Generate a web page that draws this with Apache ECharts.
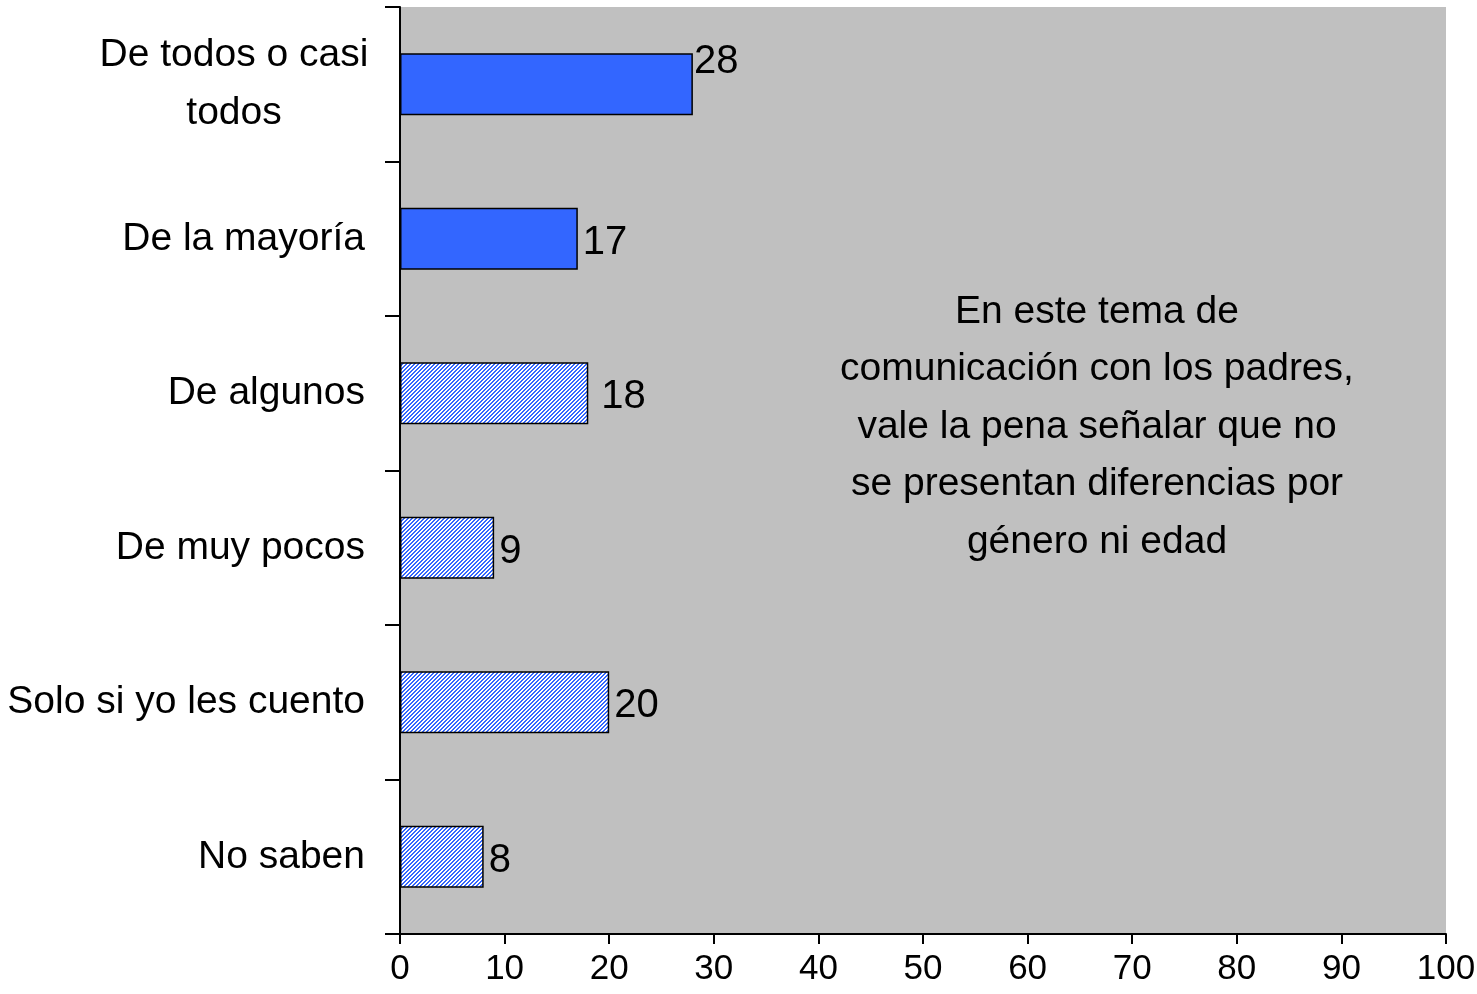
<!DOCTYPE html>
<html>
<head>
<meta charset="utf-8">
<script src="https://cdn.jsdelivr.net/npm/echarts@6/dist/echarts.min.js"></script>
<style>
html,body{margin:0;padding:0;background:#fff;}
#chart{width:1477px;height:994px;}
</style>
</head>
<body>
<div id="chart"></div>
<script>
const categories = ['De todos o casi todos', 'De la mayoría', 'De algunos', 'De muy pocos', 'Solo si yo les cuento', 'No saben'];
const values = [28, 17, 18, 9, 20, 8];
const solidFlags = [true, true, false, false, false, false];
const xTicks = [0, 10, 20, 30, 40, 50, 60, 70, 80, 90, 100];
const noteLines = ['En este tema de', 'comunicación con los padres,', 'vale la pena señalar que no', 'se presentan diferencias por', 'género ni edad'];

const FONT = '"Liberation Sans", Arial, sans-serif';
const BLUE = '#3366FF';

// hatched pattern
const pc = document.createElement('canvas');
pc.width = 4; pc.height = 4;
const pctx = pc.getContext('2d');
pctx.fillStyle = BLUE;
pctx.fillRect(0, 0, 4, 4);
pctx.fillStyle = '#ffffff';
for (let i = 0; i < 4; i++) { pctx.fillRect(i, 3 - i, 1, 1); pctx.fillRect((i + 1) % 4, 3 - i, 1, 1); }

const seriesData = values.map((v, i) => ({
  value: v,
  itemStyle: { color: solidFlags[i] ? BLUE : { image: pc, repeat: 'repeat' } },
  label: i === 0 ? { offset: [-4, -22] } : (i === 2 ? { offset: [8, 4] } : { offset: [0, 4] })
}));

const chart = echarts.init(document.getElementById('chart'), null, { renderer: 'canvas' });
chart.setOption({
  animation: false,
  backgroundColor: '#ffffff',
  grid: { left: 400, right: 31, top: 7, bottom: 60, show: true, backgroundColor: '#c0c0c0', borderWidth: 0, containLabel: false, outerBoundsMode: 'none' },
  xAxis: {
    type: 'value', min: 0, max: 100, interval: 10,
    splitLine: { show: false },
    axisLine: { show: true, lineStyle: { color: '#000', width: 2 } },
    axisTick: { show: true, length: 10, lineStyle: { color: '#000', width: 2 } },
    axisLabel: { color: '#000', fontSize: 35, fontFamily: FONT, margin: 18,
      formatter: v => String(xTicks[xTicks.indexOf(v)] ?? v) }
  },
  yAxis: {
    type: 'category', data: categories, inverse: true,
    axisLine: { show: true, lineStyle: { color: '#000', width: 2 } },
    axisTick: { show: true, length: 15, lineStyle: { color: '#000', width: 2 } },
    axisLabel: {
      color: '#000', fontSize: 39, fontFamily: FONT, margin: 35,
      formatter: function (v) {
        if (v === 'De todos o casi todos') return '{c|De todos o casi}\n{c|todos}';
        return v;
      },
      rich: { c: { width: 262, align: 'center', fontSize: 39, fontFamily: FONT, color: '#000', lineHeight: 58 } }
    }
  },
  series: [{
    type: 'bar', data: seriesData, barWidth: 62,
    itemStyle: { borderColor: '#000', borderWidth: 1.5 },
    label: { show: true, position: 'right', distance: 5, color: '#000', fontSize: 40, fontFamily: FONT }
  }],
  graphic: [{
    type: 'text', x: 1097, y: 283,
    style: {
      text: noteLines.join('\n'), align: 'center', verticalAlign: 'top',
      fill: '#000', font: '39px ' + FONT, lineHeight: 57.5
    }
  }]
});
</script>
</body>
</html>
